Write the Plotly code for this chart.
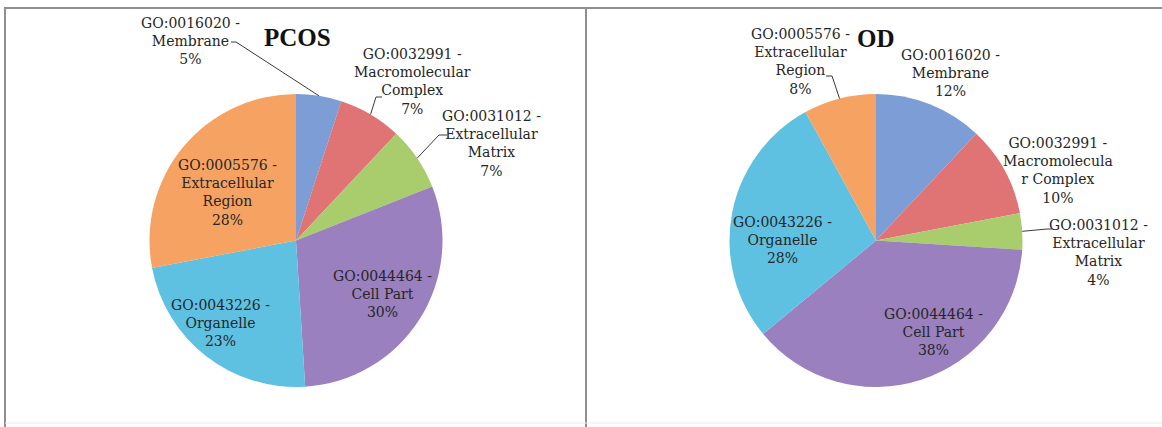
import math
import plotly.graph_objects as go

W, H = 1162, 427

# ---- data ----
categories = ["GO:0016020 - Membrane", "GO:0032991 - Macromolecular Complex",
              "GO:0031012 - Extracellular Matrix", "GO:0044464 - Cell Part",
              "GO:0043226 - Organelle", "GO:0005576 - Extracellular Region"]
pcos_values = [5, 7, 7, 30, 23, 28]
od_values = [12, 10, 4, 38, 28, 8]

# label text lines as displayed
pcos_labels = ["GO:0016020 -<br>Membrane<br>5%",
               "GO:0032991 -<br>Macromolecular<br>Complex<br>7%",
               "GO:0031012 -<br>Extracellular<br>Matrix<br>7%",
               "GO:0044464 -<br>Cell Part<br>30%",
               "GO:0043226 -<br>Organelle<br>23%",
               "GO:0005576 -<br>Extracellular<br>Region<br>28%"]
od_labels = ["GO:0016020 -<br>Membrane<br>12%",
             "GO:0032991 -<br>Macromolecula<br>r Complex<br>10%",
             "GO:0031012 -<br>Extracellular<br>Matrix<br>4%",
             "GO:0044464 -<br>Cell Part<br>38%",
             "GO:0043226 -<br>Organelle<br>28%",
             "GO:0005576 -<br>Extracellular<br>Region<br>8%"]

colors = ["#7d9dd6", "#e07373", "#a9cd6c", "#9a80be", "#5ec1e2", "#f6a262"]

# ---- layout helpers (pixel -> paper) ----
def px(x):
    return x / W

def py(y):
    return 1 - y / H

R = 146.5
pies = [
    dict(name="PCOS", values=pcos_values, labels=pcos_labels, cx=296, cy=240.5,
         title_xy=(297, 38),
         label_pos=[(190, 41), (412, 81), (491, 144), (382, 294), (220, 323), (227, 192)],
         leaders={0: [(231, 42), (236, 42)], 1: [(382, 97), (376, 97)], 2: [(447, 135), (439, 135)]}),
    dict(name="OD", values=od_values, labels=od_labels, cx=876, cy=240.5,
         title_xy=(876, 39),
         label_pos=[(950, 73), (1058, 170.5), (1098, 252), (933, 332), (782, 240), (800, 61.5)],
         leaders={5: [(826, 76), (832, 76)], 2: [(1052, 229), (1047, 229)]}),
]

fig = go.Figure()
annotations = []
shapes = []

for p in pies:
    fig.add_trace(go.Pie(
        labels=categories, values=p["values"], sort=False, direction="clockwise",
        rotation=0, textinfo="none", hoverinfo="label+percent",
        marker=dict(colors=colors, line=dict(width=0)),
        domain=dict(x=[px(p["cx"] - R), px(p["cx"] + R)],
                    y=[py(p["cy"] + R), py(p["cy"] - R)]),
        showlegend=False, name=p["name"]))
    annotations.append(dict(text=f"<b>{p['name']}</b>", x=px(p["title_xy"][0]), y=py(p["title_xy"][1]),
                            xref="paper", yref="paper", showarrow=False,
                            xanchor="center", yanchor="middle",
                            font=dict(family="Liberation Serif", size=25, color="#111111")))
    total = sum(p["values"])
    cum = 0
    for i, v in enumerate(p["values"]):
        mid = (cum + v / 2) / total * 2 * math.pi
        cum += v
        lx, ly = p["label_pos"][i]
        annotations.append(dict(text=p["labels"][i], x=px(lx), y=py(ly), xref="paper", yref="paper",
                                showarrow=False, align="center", xanchor="center", yanchor="middle",
                                font=dict(family="DejaVu Serif", size=14, color="#262626")))
        if i in p["leaders"]:
            (x0, y0), (x1, y1) = p["leaders"][i]
            tx = p["cx"] + R * math.sin(mid)
            ty = p["cy"] - R * math.cos(mid)
            path = f"M {px(x0)} {py(y0)} L {px(x1)} {py(y1)} L {px(tx)} {py(ty)}"
            shapes.append(dict(type="path", path=path, xref="paper", yref="paper",
                               line=dict(color="#3a3a3a", width=1)))

# panel borders
border = "#8f8f8f"
shapes += [
    dict(type="line", xref="paper", yref="paper", x0=px(5), x1=px(5), y0=py(8), y1=py(427), line=dict(color=border, width=2)),
    dict(type="line", xref="paper", yref="paper", x0=px(4), x1=px(1162), y0=py(8), y1=py(8), line=dict(color=border, width=2)),
    dict(type="line", xref="paper", yref="paper", x0=px(586), x1=px(586), y0=py(8), y1=py(427), line=dict(color=border, width=2)),
    dict(type="line", xref="paper", yref="paper", x0=px(5), x1=px(1162), y0=py(423), y1=py(423), line=dict(color="#ececec", width=1)),
]

fig.update_layout(width=W, height=H, margin=dict(l=0, r=0, t=0, b=0),
                  paper_bgcolor="white", plot_bgcolor="white",
                  annotations=annotations, shapes=shapes)

fig.write_html("out.html", config={"displayModeBar": False},
               post_script="document.body.style.margin='0px';document.body.style.overflow='hidden';")
